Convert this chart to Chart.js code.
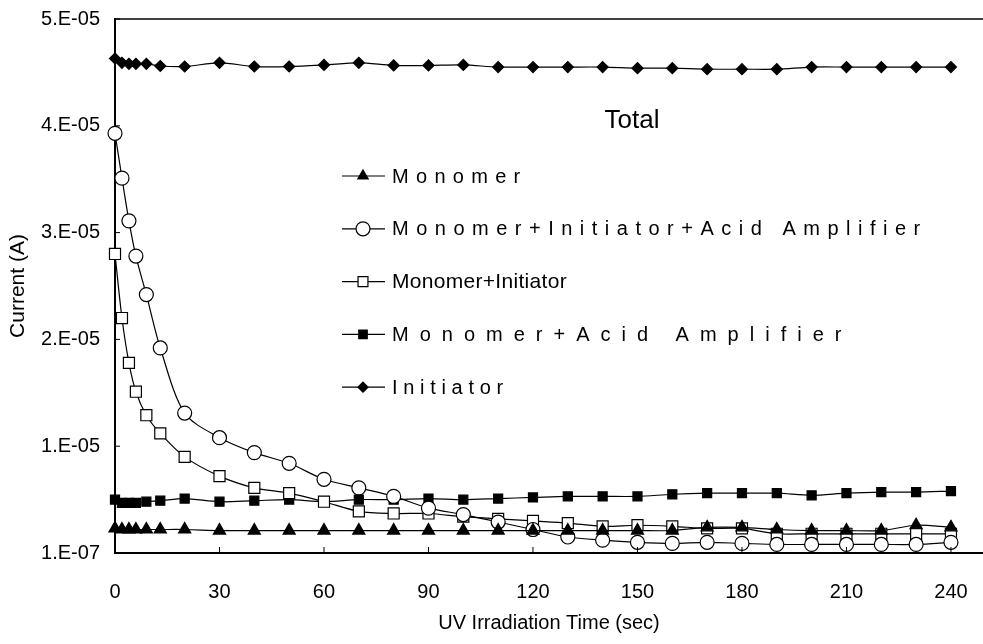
<!DOCTYPE html>
<html><head><meta charset="utf-8">
<script src="https://cdn.jsdelivr.net/npm/chart.js@4.4.1/dist/chart.umd.min.js"></script>
<style>html,body{margin:0;padding:0;background:#fff;}canvas{display:block;}</style>
</head><body>
<canvas id="c" width="983" height="644" style="width:983px;height:644px"></canvas>
<script>
// ---- data (current in units of 1e-5 A) ----
const times = [0,2,4,6,9,13,20,30,40,50,60,70,80,90,100,110,120,130,140,150,160,170,180,190,200,210,220,230,240];
const monomer = [0.24,0.23,0.23,0.23,0.23,0.23,0.23,0.22,0.22,0.22,0.22,0.22,0.22,0.22,0.22,0.22,0.22,0.22,0.22,0.22,0.22,0.25,0.25,0.23,0.22,0.22,0.22,0.27,0.25];
const monoInitAcid = [3.94,3.52,3.12,2.79,2.43,1.93,1.32,1.09,0.95,0.85,0.70,0.62,0.54,0.43,0.37,0.30,0.23,0.16,0.13,0.11,0.10,0.11,0.10,0.09,0.09,0.09,0.09,0.09,0.11];
const monoInit = [2.81,2.21,1.79,1.52,1.30,1.13,0.91,0.73,0.62,0.57,0.49,0.40,0.38,0.38,0.35,0.33,0.31,0.29,0.26,0.27,0.26,0.24,0.24,0.19,0.19,0.19,0.19,0.19,0.19];
const monoAcid = [0.51,0.48,0.48,0.48,0.49,0.50,0.52,0.49,0.50,0.51,0.49,0.51,0.51,0.52,0.51,0.52,0.53,0.54,0.54,0.54,0.56,0.57,0.57,0.57,0.55,0.57,0.58,0.58,0.59];
const initiator = [4.64,4.60,4.59,4.59,4.59,4.57,4.565,4.60,4.565,4.565,4.58,4.60,4.575,4.575,4.58,4.56,4.56,4.56,4.56,4.55,4.55,4.54,4.54,4.54,4.56,4.56,4.56,4.56,4.56];
const seriesLabels = ['Monomer','Monomer+Initiator+Acid Amplifier','Monomer+Initiator','Monomer+Acid Amplifier','Initiator'];
const legendTitle = 'Total';
const xTicks = [0,30,60,90,120,150,180,210,240];
const yTickValues = [0.01,1.01,2.01,3.01,4.01,5.01];
const yTickLabels = ['1.E-07','1.E-05','2.E-05','3.E-05','4.E-05','5.E-05'];
const xTitle = 'UV Irradiation Time (sec)';
const yTitle = 'Current (A)';

const FONT = '"Liberation Sans", Arial, Helvetica, sans-serif';
const pts = arr => times.map((t,i)=>({x:t,y:arr[i]}));

function ds(label, data, style, radius, bg){
  return {label, data: pts(data), borderColor:'#000', borderWidth:1.2, tension:0.3,
    pointStyle:style, pointRadius:radius, pointHoverRadius:radius, pointBackgroundColor:bg,
    pointBorderColor:'#000', pointBorderWidth:1.2, clip:false, fill:false};
}
const datasets = [
  ds(seriesLabels[0], monomer, 'triangle', 7, '#000'),
  ds(seriesLabels[1], monoInitAcid, 'circle', 7, '#fff'),
  ds(seriesLabels[2], monoInit, 'rect', 7.8, '#fff'),
  ds(seriesLabels[3], monoAcid, 'rect', 6.4, '#000'),
  ds(seriesLabels[4], initiator, 'rectRot', 5.5, '#000'),
];

const legendStyle = [
  {size:20, spacing:7.3, r:6},
  {size:20, spacing:7.5, r:7},
  {size:21, spacing:0.3, r:7},
  {size:20, spacing:11, r:6},
  {size:20, spacing:5.7, r:5},
];

const decor = {
  id:'decor',
  afterDraw(chart){
    const {ctx, chartArea:a, scales} = chart;
    ctx.save();
    ctx.strokeStyle='#000';
    // top border
    ctx.lineWidth=1.5;
    ctx.beginPath(); ctx.moveTo(a.left, a.top); ctx.lineTo(a.right, a.top); ctx.stroke();
    // inward tick marks
    ctx.lineWidth=1;
    scales.y.ticks.forEach(t=>{const y=scales.y.getPixelForValue(t.value); ctx.beginPath(); ctx.moveTo(a.left,y); ctx.lineTo(a.left+5,y); ctx.stroke();});
    scales.x.ticks.forEach(t=>{const x=scales.x.getPixelForValue(t.value); ctx.beginPath(); ctx.moveTo(x,a.bottom); ctx.lineTo(x,a.bottom-6); ctx.stroke();});
    // legend
    ctx.fillStyle='#000';
    ctx.textAlign='center'; ctx.textBaseline='middle';
    ctx.font='26px '+FONT;
    ctx.fillText(legendTitle, 632, 121);
    chart.data.datasets.forEach((d,i)=>{
      const st = legendStyle[i];
      const y = 176 + i*52.8;
      ctx.strokeStyle='#000'; ctx.lineWidth=1.2;
      ctx.beginPath(); ctx.moveTo(342,y); ctx.lineTo(385,y); ctx.stroke();
      ctx.fillStyle=d.pointBackgroundColor;
      Chart.helpers.drawPoint(ctx,{pointStyle:d.pointStyle, radius:st.r, rotation:0, borderWidth:1.2}, 363, y);
      ctx.fillStyle='#000';
      ctx.textAlign='left'; ctx.textBaseline='middle';
      ctx.font=st.size+'px '+FONT;
      ctx.letterSpacing = st.spacing+'px';
      ctx.fillText(d.label, 392, y+1);
      ctx.letterSpacing='0px';
    });
    ctx.restore();
  }
};

new Chart(document.getElementById('c'), {
  type:'line',
  data:{datasets},
  plugins:[decor],
  options:{
    responsive:false, animation:false, devicePixelRatio:1,
    layout:{autoPadding:false, padding:{top:19,left:0,right:0,bottom:0}},
    plugins:{legend:{display:false}, tooltip:{enabled:false}},
    scales:{
      x:{type:'linear', min:0, max:249.2,
        afterBuildTicks:s=>{s.ticks = xTicks.map(v=>({value:v}));},
        afterFit:s=>{s.height=91; s.paddingLeft=0; s.paddingRight=0;},
        grid:{display:false, drawTicks:false},
        border:{display:true, color:'#000', width:2},
        ticks:{color:'#000', padding:27, font:{family:FONT, size:20}, callback:v=>String(v), maxRotation:0, autoSkip:false},
        title:{display:true, text:xTitle, color:'#000', font:{family:FONT, size:20}, padding:{top:0,bottom:9}}
      },
      y:{type:'linear', min:0.01, max:5.01,
        afterBuildTicks:s=>{s.ticks = yTickValues.map(v=>({value:v}));},
        afterFit:s=>{s.width=115; s.paddingTop=0; s.paddingBottom=0;},
        grid:{display:false, drawTicks:false},
        border:{display:true, color:'#000', width:2},
        ticks:{color:'#000', padding:15, font:{family:FONT, size:20}, autoSkip:false,
          callback:(v,i)=>yTickLabels[yTickValues.indexOf(v)] ?? ''},
        title:{display:true, text:yTitle, color:'#000', font:{family:FONT, size:21}, padding:{top:6,bottom:0}}
      }
    }
  }
});
</script>
</body></html>
